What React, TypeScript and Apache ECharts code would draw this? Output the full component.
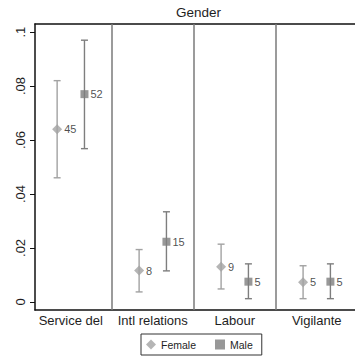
import React, { useEffect, useRef } from "react";
import * as echarts from "echarts";

// Occupation groups, shown as panels along the x axis
const categories = ["Service del", "Intl relations", "Labour", "Vigilante"];

// Female: mean share, 95% CI bounds, group size
const femaleMean = [0.064, 0.0116, 0.013, 0.0073];
const femaleLow = [0.046, 0.0037, 0.0048, 0.0012];
const femaleHigh = [0.082, 0.0194, 0.0214, 0.0134];
const femaleN = [45, 8, 9, 5];

// Male: mean share, 95% CI bounds, group size
const maleMean = [0.077, 0.0223, 0.0075, 0.0075];
const maleLow = [0.0568, 0.0115, 0.0012, 0.0012];
const maleHigh = [0.097, 0.0334, 0.0141, 0.0141];
const maleN = [52, 15, 5, 5];

const yTicks = [0, 0.02, 0.04, 0.06, 0.08, 0.1];

const FONT = "Liberation Sans, Arial, Helvetica, sans-serif";
const FEMALE_COLOR = "#a2a2a2";
const MALE_COLOR = "#7e7e7e";
const TEXT_COLOR = "#1e1e1e";

// each panel spans 3 x-units: female at +1, male at +2
const femaleX = (i: number) => 3 * i + 1;
const maleX = (i: number) => 3 * i + 2;

function errorBarSeries(name: string, color: string, xs: (i: number) => number, low: number[], high: number[]) {
  return {
    type: "custom",
    name: name + " CI",
    silent: true,
    z: 2,
    data: low.map((l, i) => [xs(i), l, high[i]]),
    renderItem: (_params: any, api: any) => {
      const x = api.value(0);
      const lo = api.coord([x, api.value(1)]);
      const hi = api.coord([x, api.value(2)]);
      const cap = 3.5;
      const style = { stroke: color, lineWidth: 1.4, fill: "none" };
      return {
        type: "group",
        children: [
          { type: "line", shape: { x1: lo[0], y1: lo[1], x2: hi[0], y2: hi[1] }, style },
          { type: "line", shape: { x1: lo[0] - cap, y1: lo[1], x2: lo[0] + cap, y2: lo[1] }, style },
          { type: "line", shape: { x1: hi[0] - cap, y1: hi[1], x2: hi[0] + cap, y2: hi[1] }, style },
        ],
      };
    },
  };
}

export default function App() {
  const ref = useRef<HTMLDivElement>(null);

  useEffect(() => {
    if (!ref.current) return;
    const chart = echarts.init(ref.current, null, { renderer: "svg" });

    const pointLabel = {
      show: true,
      position: "right",
      distance: 2,
      fontFamily: FONT,
      fontSize: 11,
      color: TEXT_COLOR,
      formatter: (p: any) => String(p.value[2]),
    };

    chart.setOption({
      animation: false,
      backgroundColor: "#ffffff",
      textStyle: { fontFamily: FONT },
      title: {
        text: "Gender",
        left: 176,
        top: 5,
        padding: 0,
        textStyle: { fontFamily: FONT, fontSize: 13.5, fontWeight: "normal", color: TEXT_COLOR },
      },
      legend: {
        left: 141,
        top: 334,
        orient: "horizontal",
        padding: [5, 9, 5, 5],
        itemGap: 19,
        itemWidth: 10,
        itemHeight: 10,
        borderColor: "#333333",
        borderWidth: 1,
        textStyle: { fontFamily: FONT, fontSize: 10.5, color: TEXT_COLOR },
        data: [
          { name: "Female", icon: "diamond" },
          { name: "Male", icon: "rect" },
        ],
      },
      grid: { left: 35, right: 0, top: 24, bottom: 47, containLabel: false },
      xAxis: [
        {
          type: "value",
          min: 0.19,
          max: 11.9,
          position: "bottom",
          splitLine: { show: false },
          axisLine: { show: true, onZero: false, lineStyle: { color: "#111", width: 1.5 } },
          axisTick: { show: false },
          axisLabel: {
            customValues: categories.map((_, i) => 3 * i + 1.5),
            formatter: (v: number) => categories[Math.round((v - 1.5) / 3)] ?? "",
            fontFamily: FONT,
            fontSize: 13,
            color: TEXT_COLOR,
            margin: 4,
            showMinLabel: true,
            showMaxLabel: true,
          },
        },
        {
          type: "value",
          min: 0.19,
          max: 11.9,
          position: "top",
          splitLine: { show: false },
          axisLine: { show: true, onZero: false, lineStyle: { color: "#111", width: 1.5 } },
          axisTick: { show: false },
          axisLabel: { show: false },
        },
      ],
      yAxis: {
        type: "value",
        min: -0.003,
        max: 0.103,
        splitLine: { show: false },
        axisLine: { show: true, onZero: false, lineStyle: { color: "#111", width: 1.5 } },
        axisTick: { show: true, length: 5, customValues: yTicks, lineStyle: { color: "#111", width: 1 } },
        axisLabel: {
          customValues: yTicks,
          rotate: 90,
          margin: 8,
          fontFamily: FONT,
          fontSize: 13,
          color: TEXT_COLOR,
          formatter: (v: number) => (v === 0 ? "0" : String(v).replace(/^0/, "")),
        },
      },
      series: [
        errorBarSeries("Female", FEMALE_COLOR, femaleX, femaleLow, femaleHigh),
        errorBarSeries("Male", MALE_COLOR, maleX, maleLow, maleHigh),
        {
          type: "scatter",
          name: "Female",
          symbol: "diamond",
          symbolSize: 10,
          z: 3,
          itemStyle: { color: FEMALE_COLOR },
          label: pointLabel,
          data: femaleMean.map((m, i) => [femaleX(i), m, femaleN[i]]),
          markLine: {
            silent: true,
            symbol: "none",
            label: { show: false },
            lineStyle: { color: "#7a7a7a", width: 1.5, type: "solid" },
            data: categories.slice(1).map((_, i) => ({ xAxis: 3 * (i + 1) })),
          },
        },
        {
          type: "scatter",
          name: "Male",
          symbol: "rect",
          symbolSize: 8,
          z: 3,
          itemStyle: { color: MALE_COLOR },
          label: pointLabel,
          data: maleMean.map((m, i) => [maleX(i), m, maleN[i]]),
        },
      ],
    });

    return () => chart.dispose();
  }, []);

  return (
    <div
      ref={ref}
      style={{ position: "absolute", left: 0, top: 0, width: 355, height: 357, background: "#fff" }}
    />
  );
}
